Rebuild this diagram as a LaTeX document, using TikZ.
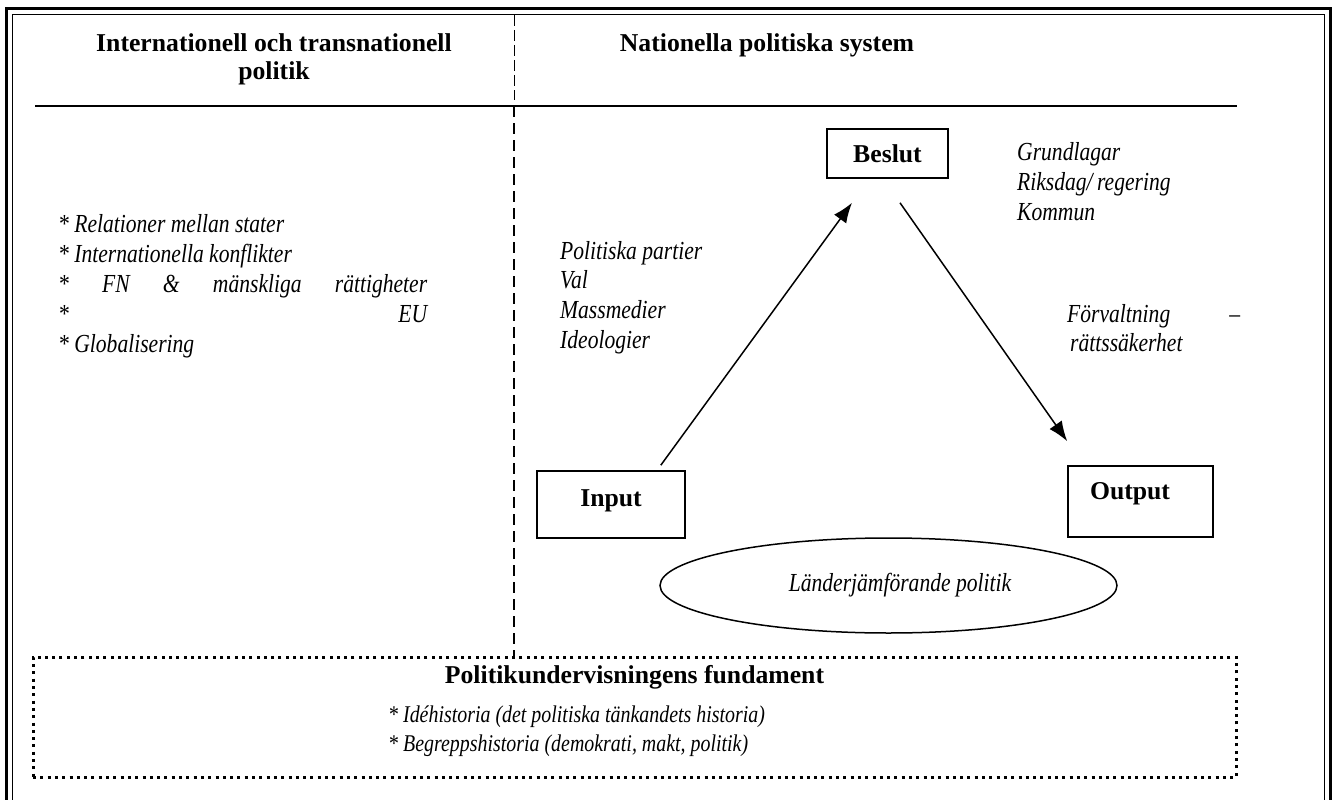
\documentclass[tikz,border=0pt]{standalone}
\usepackage{fontspec}
\setmainfont{Liberation Serif}
\newfontfamily\garit{Liberation Serif}[FakeStretch=0.83]
\usetikzlibrary{arrows.meta,shapes.geometric}
\newcommand{\listfont}{\garit\itshape\fontsize{26}{30}\selectfont}
\newcommand{\smallfont}{\garit\itshape\fontsize{24}{29}\selectfont}
\tikzset{
  headtxt/.style={font=\fontsize{25.7}{28}\selectfont\bfseries, inner sep=0pt},
  itemtxt/.style={font=\listfont, inner sep=0pt, anchor=base west},
  smalltxt/.style={font=\smallfont, inner sep=0pt, anchor=base west},
  stagebox/.style={rectangle, draw, line width=1.6pt, inner sep=0pt},
  flow/.style={-{Latex[length=20pt,width=15pt]}, line width=1.5pt}
}
\begin{document}
\begin{tikzpicture}[x=1pt,y=-1pt]
    \useasboundingbox (0,0) rectangle (1333,800);
    \draw[line width=3pt] (6.5,8.5) rectangle (1330,830);
    \draw[line width=1pt] (12.5,15) rectangle (1324,830);
    \node[headtxt, anchor=base] (intlhead) at (274,52) {Internationell och transnationell};
    \node[headtxt, anchor=base] (intlhead2) at (274,80) {politik};
    \node[headtxt, anchor=base] (nathead) at (767,52) {Nationella politiska system};
    \draw[line width=2pt] (35,106) -- (1237,106);
    \draw[line width=0.8pt, dash pattern=on 11pt off 4pt] (514,15) -- (514,100);
    \draw[line width=2.4pt, dash pattern=on 11pt off 6pt] (514,106) -- (514,657);
    \node[itemtxt] (rel) at (58,232) {* Relationer mellan stater};
    \node[itemtxt] (konf) at (58,262) {* Internationella konflikter};
    \node[itemtxt] (fn) at (58,292) {\makebox[369pt][s]{* FN \& mänskliga rättigheter}};
    \node[itemtxt] (eu) at (58,322) {\makebox[369pt][s]{* EU}};
    \node[itemtxt] (glob) at (58,352) {* Globalisering};
    \foreach \txt [count=\i] in {Politiska partier, Val, Massmedier, Ideologier}
        \node[itemtxt] (inlist\i) at (560,{259+29.7*(\i-1)}) {\txt};
    \foreach \txt [count=\i] in {Grundlagar, Riksdag/\,regering, Kommun}
        \node[itemtxt] (beslist\i) at (1017,{160+30*(\i-1)}) {\txt};
    \node[itemtxt] (forv) at (1067,322) {\makebox[173pt][s]{Förvaltning –}};
    \node[itemtxt] (ratt) at (1070,351) {rättssäkerhet};
    \node[stagebox, headtxt, minimum width=121pt, minimum height=49pt] (beslut) at (887.5,153.5) {Beslut};
    \node[stagebox, minimum width=148pt, minimum height=67pt] (input) at (611,504.5) {};
    \node[headtxt, anchor=base] (inputlabel) at (611,506) {Input};
    \node[stagebox, minimum width=145pt, minimum height=71pt] (output) at (1140.5,501.5) {};
    \node[headtxt, anchor=base] (outputlabel) at (1130,499) {Output};
    \draw[flow] ([xshift=-25pt,yshift=5pt]input.north east) -- ([xshift=-35.5pt,yshift=-24pt]beslut.south);
    \draw[flow] ([xshift=12.5pt,yshift=-24pt]beslut.south) -- ([yshift=24pt]output.north west);
    \node[ellipse, draw, line width=1.5pt, minimum width=457pt, minimum height=95pt, inner sep=0pt, font=\listfont] (compare) at (888.5,585.5) {\hspace*{23pt}Länderjämförande politik};
    \node[draw, line width=3pt, dash pattern=on 3pt off 4.3pt, minimum width=1203pt, minimum height=120pt, inner sep=0pt] (fund) at (634.5,717) {};
    \node[headtxt, anchor=base] (fundtitle) at (634.5,683) {Politikundervisningens fundament};
    \node[smalltxt] (ide) at (388,722) {* Idéhistoria (det politiska tänkandets historia)};
    \node[smalltxt] (begr) at (388,751) {* Begreppshistoria (demokrati, makt, politik)};
\end{tikzpicture}
\end{document}
